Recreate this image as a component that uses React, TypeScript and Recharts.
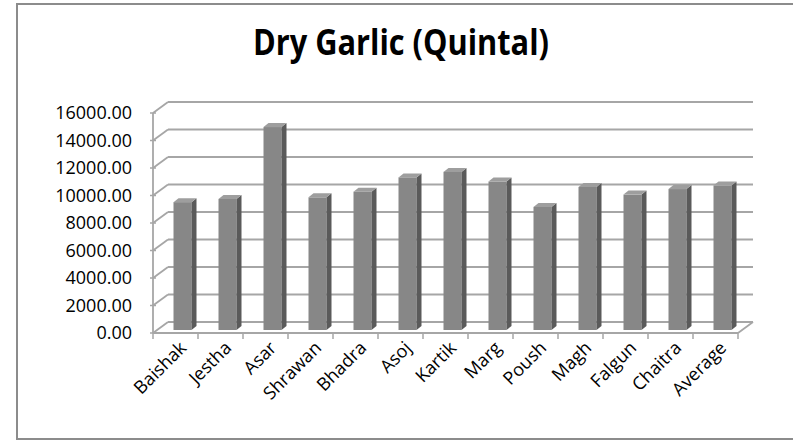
import { BarChart, Bar, XAxis, YAxis, CartesianGrid } from 'recharts'

const months = [
    'Baishak',
    'Jestha',
    'Asar',
    'Shrawan',
    'Bhadra',
    'Asoj',
    'Kartik',
    'Marg',
    'Poush',
    'Magh',
    'Falgun',
    'Chaitra',
    'Average',
]
const quintals = [
    9300, 9530, 14760, 9650, 10060, 11100, 11500, 10800, 8950, 10400, 9850,
    10250, 10510,
]
const yTicks = [0, 2000, 4000, 6000, 8000, 10000, 12000, 14000, 16000]

const data = months.map((month, i) => ({ month, quintal: quintals[i] }))

// depth of the 3d walls and of each column
const WALL_DX = 15
const WALL_DY = 11
const COL_DX = 5
const COL_DY = 4
const COL_SHIFT_X = 6.5
const COL_SHIFT_Y = -3
const HALF_BAND = (738 - 153) / months.length / 2
const GRID = '#a6a6a6'
const FONT = '"Open Sans", "DejaVu Sans", sans-serif'

function WallLine(props: any) {
    const { x1, y1, x2 } = props
    return (
        <g>
            <line
                x1={x1}
                y1={y1}
                x2={x1 + WALL_DX}
                y2={y1 - WALL_DY}
                stroke={GRID}
                strokeWidth={1.8}
            />
            <line
                x1={x1 + WALL_DX}
                y1={y1 - WALL_DY}
                x2={x2 + WALL_DX}
                y2={y1 - WALL_DY}
                stroke={GRID}
                strokeWidth={1.8}
            />
        </g>
    )
}

function Column3D(props: any) {
    const { x, y, width, height } = props
    if (height == null || height <= 0) return null
    const fx = x + COL_SHIFT_X
    const fy = y + COL_SHIFT_Y
    const side = `${fx + width},${fy} ${fx + width + COL_DX},${fy - COL_DY} ${
        fx + width + COL_DX
    },${fy + height - COL_DY} ${fx + width},${fy + height}`
    const top = `${fx},${fy} ${fx + COL_DX},${fy - COL_DY} ${
        fx + width + COL_DX
    },${fy - COL_DY} ${fx + width},${fy}`
    return (
        <g>
            <rect x={fx} y={fy} width={width} height={height} fill="#878787" />
            <polygon points={side} fill="#5a5a5a" />
            <polygon points={top} fill="#9e9e9e" />
        </g>
    )
}

function YTick(props: any) {
    const { x, y, payload } = props
    return (
        <g>
            <line x1={x - 3} y1={y} x2={x + 3} y2={y} stroke={GRID} strokeWidth={1.5} />
            <text
                x={x - 21}
                y={y}
                dy="0.36em"
                textAnchor="end"
                fontFamily={FONT}
                fontSize={18}
                fill="#000"
            >
                {Number(payload.value).toFixed(2)}
            </text>
        </g>
    )
}

function XTick(props: any) {
    const { x, y, payload, index, visibleTicksCount } = props
    const last = index === visibleTicksCount - 1
    const ax = x + 12
    const ay = y + 16
    return (
        <g>
            <line
                x1={x - HALF_BAND}
                y1={y}
                x2={x - HALF_BAND}
                y2={y + 6}
                stroke={GRID}
                strokeWidth={1.5}
            />
            {last ? (
                <g>
                    <line
                        x1={x + HALF_BAND}
                        y1={y}
                        x2={x + HALF_BAND}
                        y2={y + 6}
                        stroke={GRID}
                        strokeWidth={1.5}
                    />
                    <line
                        x1={x + HALF_BAND}
                        y1={y}
                        x2={x + HALF_BAND + WALL_DX}
                        y2={y - WALL_DY}
                        stroke={GRID}
                        strokeWidth={1.8}
                    />
                </g>
            ) : null}
            <text
                x={ax}
                y={ay}
                textAnchor="end"
                transform={`rotate(-45, ${ax}, ${ay})`}
                fontFamily={FONT}
                fontSize={18}
                fill="#000"
            >
                {payload.value}
            </text>
        </g>
    )
}

export default function App() {
    return (
        <div
            style={{
                position: 'fixed',
                left: 0,
                top: 0,
                width: 793,
                height: 442,
                background: '#fff',
                overflow: 'hidden',
            }}
        >
            <div
                style={{
                    position: 'absolute',
                    left: 16,
                    top: 3,
                    width: 800,
                    height: 433,
                    border: '2px solid #8c8c8c',
                }}
            />
            <svg
                width={793}
                height={80}
                style={{ position: 'absolute', left: 0, top: 0 }}
            >
                <text
                    x={401}
                    y={55}
                    textAnchor="middle"
                    fontFamily={FONT}
                    fontWeight="bold"
                    fontSize={36}
                    textLength={296}
                    lengthAdjust="spacingAndGlyphs"
                    fill="#000"
                >
                    Dry Garlic (Quintal)
                </text>
            </svg>
            <div style={{ position: 'absolute', left: 0, top: 0 }}>
                <BarChart
                    width={793}
                    height={442}
                    data={data}
                    margin={{ top: 113, right: 55, bottom: 9, left: 13 }}
                    barSize={18}
                >
                    <CartesianGrid
                        vertical={false}
                        horizontal={(p: any) => <WallLine key={p.key} {...p} />}
                    />
                    <XAxis
                        dataKey="month"
                        height={100}
                        interval={0}
                        tickLine={false}
                        tickSize={0}
                        tickMargin={0}
                        axisLine={{ stroke: GRID, strokeWidth: 1.8 }}
                        tick={<XTick />}
                    />
                    <YAxis
                        width={140}
                        domain={[0, 16000]}
                        ticks={yTicks}
                        interval={0}
                        tickLine={false}
                        tickSize={0}
                        tickMargin={0}
                        axisLine={{ stroke: GRID, strokeWidth: 1.8 }}
                        tick={<YTick />}
                    />
                    <Bar
                        dataKey="quintal"
                        shape={<Column3D />}
                        isAnimationActive={false}
                    />
                </BarChart>
            </div>
        </div>
    )
}
